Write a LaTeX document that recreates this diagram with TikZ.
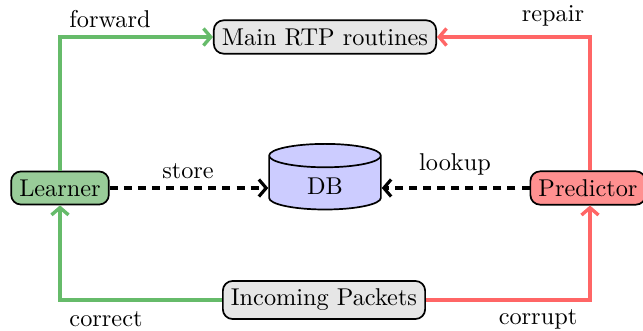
\documentclass[tikz,border=0pt]{standalone}
\usetikzlibrary{arrows.meta,shapes.geometric}
\definecolor{lgreen}{RGB}{102,187,106}
\definecolor{fgreen}{RGB}{153,204,153}
\definecolor{lred}{RGB}{255,102,102}
\definecolor{fred}{RGB}{255,144,144}
\definecolor{fblue}{RGB}{204,204,255}
\definecolor{fgray}{RGB}{230,230,230}
\begin{document}
\begin{tikzpicture}[x=0.4115pt,y=-0.4115pt,
  box/.style={draw,rounded corners=4pt,line width=0.7pt,inner sep=3.33pt},
  gline/.style={draw=lgreen,line width=1.4pt},
  rline/.style={draw=lred,line width=1.4pt},
  dline/.style={draw=black,line width=1.3pt,dash pattern=on 3.3pt off 2.5pt},
  tip/.style={-{Straight Barb[length=3pt,width=7pt]}},
  lbl/.style={inner sep=0pt}]
\useasboundingbox (0,0) rectangle (643,330);
\node[box,fill=fgray] (main) at (325,37) {Main RTP routines};
\node[box,fill=fgreen] (learner) at (60,188) {Learner};
\node[box,fill=fred] (pred) at (588,188) {Predictor};
\node[box,fill=fgray] (inc) at (324,300) {Incoming Packets};
\node[draw,cylinder,shape border rotate=90,aspect=0.45,fill=fblue,line width=0.7pt,
  minimum width=46pt,minimum height=27pt] (db) at (325,186) {DB};
\coordinate (ltop) at (60,37);
\coordinate (rtop) at (590,37);
\coordinate (lbot) at (60,300);
\coordinate (rbot) at (590,300);
\draw[gline,tip] (learner.north) -- (ltop) -- (main.west);
\draw[rline,tip] (pred.north -| rtop) -- (rtop) -- (main.east);
\draw[gline,tip] (inc.west) -- (lbot) -- (learner.south);
\draw[rline,tip] (inc.east) -- (rbot) -- (pred.south -| rbot);
\draw[dline,tip] (learner.east) -- (learner.east -| db.west);
\draw[dline,tip] (pred.west) -- (pred.west -| db.east);
\node[lbl] (lf) at (110,19) {forward};
\node[lbl] (lr) at (553,16) {repair};
\node[lbl] (ls) at (188,171) {store};
\node[lbl] (ll) at (455,164) {lookup};
\node[lbl] (lc) at (106,319) {correct};
\node[lbl] (lu) at (538,319) {corrupt};
\end{tikzpicture}
\end{document}
